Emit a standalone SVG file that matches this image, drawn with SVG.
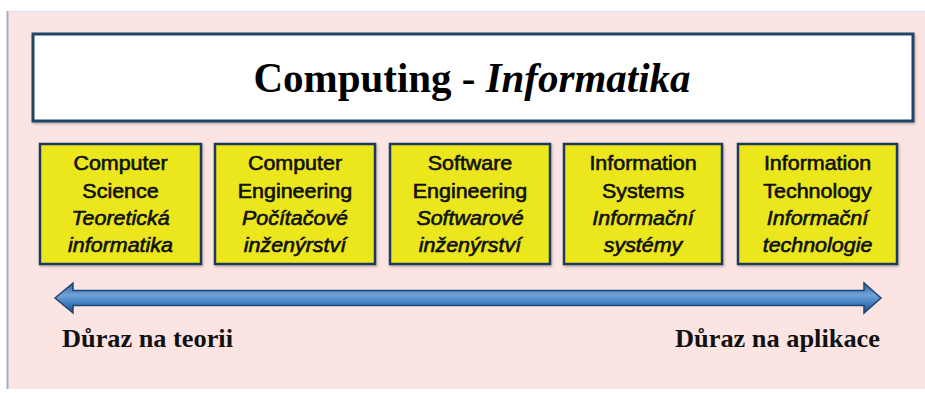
<svg xmlns="http://www.w3.org/2000/svg" width="925" height="393" viewBox="0 0 925 393">
  <defs>
    <linearGradient id="arrowGrad" x1="0" y1="0" x2="0" y2="1">
      <stop offset="0" stop-color="#285f9c"/>
      <stop offset="0.4" stop-color="#6fa3d8"/>
      <stop offset="0.65" stop-color="#4582c2"/>
      <stop offset="1" stop-color="#1c4a7e"/>
    </linearGradient>
    <filter id="shadow" x="-5%" y="-5%" width="110%" height="115%">
      <feDropShadow dx="1" dy="1.5" stdDeviation="1" flood-color="#6d6d6d" flood-opacity="0.5"/>
    </filter>
    <style>
      .area { fill: #fce4e3; }
      .title-box { fill: #ffffff; stroke: #1f4466; stroke-width: 3; }
      .title { font-family: "Liberation Serif", "Times New Roman", serif; font-size: 42px; font-weight: bold; fill: #000; }
      .box { fill: #ebe71c; stroke: #1f3b5c; stroke-width: 2.5; }
      .lbl { font-family: "Liberation Sans", Arial, sans-serif; font-size: 19.5px; fill: #111; stroke: #111; stroke-width: 0.6; text-anchor: middle; }
      .it { font-style: italic; }
      .axis { font-family: "Liberation Serif", "Times New Roman", serif; font-size: 25px; font-weight: bold; fill: #111; }
      .arrow { fill: url(#arrowGrad); stroke: #1d4774; stroke-width: 1.5; stroke-linejoin: miter; }
    </style>
  </defs>

  <rect x="0" y="0" width="925" height="393" fill="#ffffff"/>
  <g id="panel">
    <rect class="area" x="7" y="11" width="925" height="378"/>
    <line x1="7" y1="11.5" x2="925" y2="11.5" stroke="#dde6f2" stroke-width="1.5"/>
    <line x1="7.5" y1="11" x2="7.5" y2="389" stroke="#9fb0c8" stroke-width="2"/>
  </g>

  <g id="title">
    <rect class="title-box" x="33" y="34" width="880" height="87" filter="url(#shadow)"/>
    <text class="title" x="472" y="92" text-anchor="middle" textLength="437" lengthAdjust="spacingAndGlyphs">Computing - <tspan font-style="italic">Informatika</tspan></text>
  </g>

  <g id="computer-science">
    <rect class="box" x="40" y="144" width="161" height="120" filter="url(#shadow)"/>
    <g transform="translate(120.5,0) scale(1.1,1)">
      <text class="lbl" x="0" y="170">Computer</text>
      <text class="lbl" x="0" y="198">Science</text>
      <text class="lbl it" x="0" y="225">Teoretická</text>
      <text class="lbl it" x="0" y="252">informatika</text>
    </g>
  </g>

  <g id="computer-engineering">
    <rect class="box" x="215" y="144" width="160" height="120" filter="url(#shadow)"/>
    <g transform="translate(295,0) scale(1.1,1)">
      <text class="lbl" x="0" y="170">Computer</text>
      <text class="lbl" x="0" y="198">Engineering</text>
      <text class="lbl it" x="0" y="225">Počítačové</text>
      <text class="lbl it" x="0" y="252">inženýrství</text>
    </g>
  </g>

  <g id="software-engineering">
    <rect class="box" x="390" y="144" width="160" height="120" filter="url(#shadow)"/>
    <g transform="translate(470,0) scale(1.1,1)">
      <text class="lbl" x="0" y="170">Software</text>
      <text class="lbl" x="0" y="198">Engineering</text>
      <text class="lbl it" x="0" y="225">Softwarové</text>
      <text class="lbl it" x="0" y="252">inženýrství</text>
    </g>
  </g>

  <g id="information-systems">
    <rect class="box" x="564" y="144" width="158" height="120" filter="url(#shadow)"/>
    <g transform="translate(643,0) scale(1.1,1)">
      <text class="lbl" x="0" y="170">Information</text>
      <text class="lbl" x="0" y="198">Systems</text>
      <text class="lbl it" x="0" y="225">Informační</text>
      <text class="lbl it" x="0" y="252">systémy</text>
    </g>
  </g>

  <g id="information-technology">
    <rect class="box" x="738" y="144" width="159" height="120" filter="url(#shadow)"/>
    <g transform="translate(817.5,0) scale(1.1,1)">
      <text class="lbl" x="0" y="170">Information</text>
      <text class="lbl" x="0" y="198">Technology</text>
      <text class="lbl it" x="0" y="225">Informační</text>
      <text class="lbl it" x="0" y="252">technologie</text>
    </g>
  </g>

  <g id="connectors">
    <path class="arrow" d="M55,298 L73,283 L73,290.5 L864,290.5 L864,283 L881,298 L864,313 L864,305.5 L73,305.5 L73,313 Z"/>
  </g>

  <g id="axis-labels">
    <text class="axis" x="62" y="347" textLength="171" lengthAdjust="spacingAndGlyphs">Důraz na teorii</text>
    <text class="axis" x="675" y="347" textLength="205" lengthAdjust="spacingAndGlyphs">Důraz na aplikace</text>
  </g>
</svg>
